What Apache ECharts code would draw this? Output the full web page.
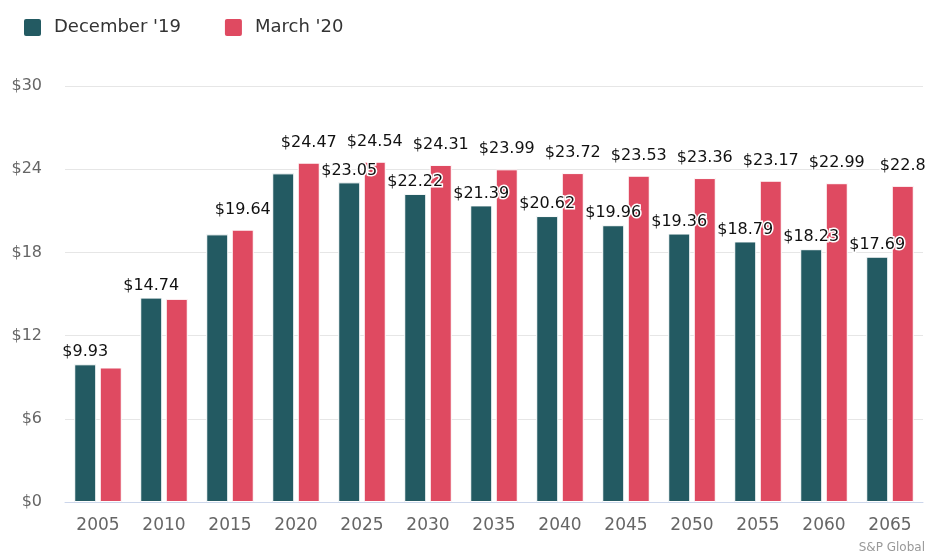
<!DOCTYPE html>
<html>
<head>
<meta charset="utf-8">
<script src="https://cdn.jsdelivr.net/npm/echarts@6/dist/echarts.min.js"></script>
<style>
  html, body { margin: 0; padding: 0; background: #fff; }
  #chart { width: 929px; height: 557px; }
</style>
</head>
<body>
<div id="chart"></div>
<script>
// Average price per series, by year
const years = ['2005', '2010', '2015', '2020', '2025', '2030', '2035', '2040', '2045', '2050', '2055', '2060', '2065'];
const december19 = [9.93, 14.74, 19.3, 23.7, 23.05, 22.22, 21.39, 20.62, 19.96, 19.36, 18.79, 18.23, 17.69];
const march20 = [9.7, 14.65, 19.64, 24.47, 24.54, 24.31, 23.99, 23.72, 23.53, 23.36, 23.17, 22.99, 22.8];
const yTicks = { min: 0, max: 30, step: 6 };

// Years whose value labels are left off to avoid collisions
const decLabelOff = ['2015', '2020'];
const marLabelOff = ['2005', '2010'];

const FONT = '"DejaVu Sans", Verdana, sans-serif';
const LEGEND_ICON = 'path://M3,0 L16,0 Q19,0 19,3 L19,16 Q19,19 16,19 L3,19 Q0,19 0,16 L0,3 Q0,0 3,0 Z';

function withLabels(values, off) {
  return values.map((v, i) => ({
    value: v,
    label: { show: off.indexOf(years[i]) < 0 }
  }));
}

const labelStyle = (distance) => ({
  show: true,
  position: 'top',
  distance: distance,
  color: '#111',
  fontFamily: FONT,
  fontSize: 16,
  textBorderColor: '#fff',
  textBorderWidth: 3,
  formatter: (p) => '$' + p.value
});

const chart = echarts.init(document.getElementById('chart'), null, { renderer: 'canvas' });

chart.setOption({
  animation: false,
  backgroundColor: '#fff',
  legend: {
    left: 17,
    top: 12,
    itemWidth: 19,
    itemHeight: 19,
    itemGap: 42,
    icon: LEGEND_ICON,
    textStyle: {
      fontFamily: FONT,
      fontSize: 18,
      color: '#333',
      padding: [0, 0, 0, 7]
    },
    data: ["December '19", "March '20"]
  },
  grid: { left: 65, right: 6, top: 86, bottom: 55, containLabel: false },
  xAxis: {
    type: 'category',
    data: years,
    axisLine: { lineStyle: { color: '#ccd6eb', width: 1 } },
    axisTick: { show: false },
    axisLabel: {
      fontFamily: FONT,
      fontSize: 17,
      color: '#666',
      margin: 15
    }
  },
  yAxis: {
    type: 'value',
    min: yTicks.min,
    max: yTicks.max,
    interval: yTicks.step,
    axisLine: { show: false },
    axisTick: { show: false },
    splitLine: { lineStyle: { color: '#e6e6e6', width: 1 } },
    axisLabel: {
      fontFamily: FONT,
      fontSize: 16,
      color: '#666',
      margin: 23,
      formatter: (v) => '$' + v
    }
  },
  series: [
    {
      name: "December '19",
      type: 'bar',
      data: withLabels(december19, decLabelOff),
      barWidth: 22,
      barGap: '16%',
      itemStyle: { color: '#235a62', borderColor: '#fff', borderWidth: 1 },
      label: labelStyle(4),
      z: 3
    },
    {
      name: "March '20",
      type: 'bar',
      data: withLabels(march20, marLabelOff),
      barWidth: 22,
      itemStyle: { color: '#df4a61', borderColor: '#fff', borderWidth: 1 },
      label: labelStyle(12),
      z: 2
    }
  ],
  graphic: [
    {
      type: 'text',
      right: 4,
      bottom: 3,
      style: {
        text: 'S&P Global',
        fontFamily: FONT,
        fontSize: 12,
        fill: '#999'
      }
    }
  ]
});
</script>
</body>
</html>
